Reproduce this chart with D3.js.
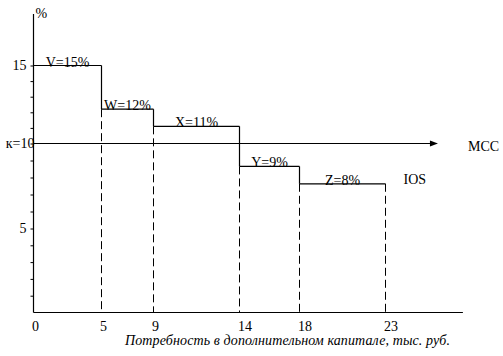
<!DOCTYPE html>
<html>
<head>
<meta charset="utf-8">
<script src="https://cdn.jsdelivr.net/npm/d3@7"></script>
<style>
  html, body { margin: 0; padding: 0; background: #fff; }
  svg { display: block; }
</style>
</head>
<body>
<script>
// ---- data ----
const breakpoints = [0, 5, 9, 14, 18, 23];          // cumulative capital need, thousand rub.
const projects    = ["V", "W", "X", "Y", "Z"];
const rates       = [15, 12, 11, 9, 8];               // labelled IRR, %
const stepLevels  = [15, 12.2, 11.1, 8.65, 7.63];     // step heights as drawn, %
const kRate       = 10;                               // marginal cost of capital (MCC)
const yTickValues = [1,2,3,4,5,6,7,8,9,10,11,12,13,14,15];
const yTickLabels = [5, 15];
const xTickLabels = [0, 5, 9, 14, 18, 23];
const xCaption    = "Потребность в дополнительном капитале, тыс. руб.";

const FONT = "'Liberation Serif', 'Times New Roman', 'DejaVu Serif', serif";
const W = 503, H = 356;
const svg = d3.select("body").append("svg").attr("width", W).attr("height", H)
  .attr("font-family", FONT).attr("font-size", 14);
svg.append("rect").attr("width", W).attr("height", H).attr("fill", "#fff");

// hand-drawn axes: piecewise-linear scales
const x = d3.scaleLinear().domain(breakpoints).range([33.5, 101.5, 153.5, 239.5, 299.5, 385.5]);
const y = d3.scaleLinear().domain([0, 5, 10, 15]).range([312.5, 228.5, 143.5, 65.5]);

const xEnd = 27.5, arrowEnd = 26.05, yTop = 18.3;

const g = svg.append("g");
const T = sel => sel.attr("font-family", FONT).attr("font-size", 14).attr("fill", "#000");

// axes lines
g.append("line").attr("x1", x(0)).attr("x2", x(xEnd)).attr("y1", y(0)).attr("y2", y(0))
  .attr("stroke", "#000").attr("stroke-width", 1.2);
g.append("line").attr("x1", x(0)).attr("x2", x(0)).attr("y1", y(0)).attr("y2", y(yTop))
  .attr("stroke", "#000").attr("stroke-width", 1.2);

// y axis ticks + labels
const yAxis = d3.axisLeft(y).tickValues(yTickValues).tickSize(3).tickPadding(4)
  .tickFormat(d => yTickLabels.includes(d) ? d : "");
const ya = g.append("g").attr("transform", `translate(${x(0)},0)`).call(yAxis);
ya.attr("font-family", FONT).attr("font-size", 14);
ya.select(".domain").remove();
ya.selectAll("line").attr("stroke", "#000");
ya.selectAll("text").call(T);

// x axis labels
const xAxis = d3.axisBottom(x).tickValues(xTickLabels).tickSize(0).tickPadding(9).tickFormat(d => d);
const xa = g.append("g").attr("transform", `translate(0,${y(0)})`).call(xAxis);
xa.attr("font-family", FONT).attr("font-size", 14);
xa.select(".domain").remove();
xa.selectAll("text").attr("text-anchor", "start").attr("dx", -2).call(T);

// "%" label
g.append("text").attr("x", x(0) + 2).attr("y", y(yTop) + 4).text("%").call(T);

// MCC line with arrow
g.append("line").attr("x1", x(0)).attr("x2", x(arrowEnd) - 6).attr("y1", y(kRate)).attr("y2", y(kRate))
  .attr("stroke", "#000").attr("stroke-width", 1.2);
const ax = x(arrowEnd), ay = y(kRate);
g.append("path").attr("d", `M${ax},${ay} L${ax - 8},${ay - 3} L${ax - 8},${ay + 3} Z`).attr("fill", "#000");
g.append("text").attr("x", x(0) + 1).attr("y", y(kRate)).attr("dy", "0.35em")
  .attr("text-anchor", "end").text("к=" + kRate).call(T);
g.append("text").attr("x", ax + 30).attr("y", ay + 7).text("MCC").call(T);

// steps (IOS)
const steps = projects.map((p, i) => ({
  name: p, rate: rates[i], level: stepLevels[i],
  x0: breakpoints[i], x1: breakpoints[i + 1],
  next: i < projects.length - 1 ? stepLevels[i + 1] : null
}));

const sg = g.append("g");
steps.forEach(s => {
  sg.append("line").attr("x1", x(s.x0)).attr("x2", x(s.x1)).attr("y1", y(s.level)).attr("y2", y(s.level))
    .attr("stroke", "#000").attr("stroke-width", 1.2);
  const low = s.next === null ? s.level : s.next;
  if (s.next !== null) {
    sg.append("line").attr("x1", x(s.x1)).attr("x2", x(s.x1)).attr("y1", y(s.level)).attr("y2", y(low))
      .attr("stroke", "#000").attr("stroke-width", 1.2);
  }
  sg.append("line").attr("x1", x(s.x1)).attr("x2", x(s.x1)).attr("y1", y(low)).attr("y2", y(0))
    .attr("stroke", "#000").attr("stroke-width", 1).attr("stroke-dasharray", "8,4");
  sg.append("text").attr("x", (x(s.x0) + x(s.x1)) / 2).attr("y", y(s.level) + 1)
    .attr("text-anchor", "middle").text(`${s.name}=${s.rate}%`).call(T);
});

g.append("text").attr("x", x(breakpoints[breakpoints.length - 1]) + 18)
  .attr("y", y(stepLevels[stepLevels.length - 1])).text("IOS").call(T);

// caption
g.append("text").attr("x", 125).attr("y", 345).attr("font-style", "italic")
  .attr("textLength", 325).attr("lengthAdjust", "spacing").text(xCaption).call(T);
</script>
</body>
</html>
